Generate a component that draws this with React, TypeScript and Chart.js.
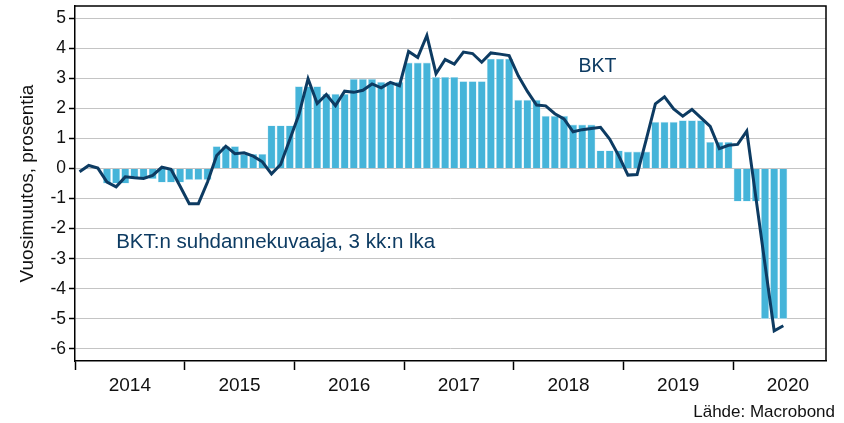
import React, { useEffect, useRef } from 'react';
import { Chart, registerables } from 'chart.js';

Chart.register(...registerables);

// ---- data ----
const YEARS = [2014, 2015, 2016, 2017, 2018, 2019, 2020];
const Y_TICKS = [-6, -5, -4, -3, -2, -1, 0, 1, 2, 3, 4, 5];

// Quarterly GDP (BKT) y/y change, Q1 2014 .. Q2 2020
const BKT_QUARTERLY = [
  -0.03, -0.5, -0.35, -0.47,
  -0.38, 0.74, 0.48, 1.43,
  2.73, 2.48, 2.98, 2.88,
  3.52, 3.04, 2.9, 3.65,
  2.28, 1.75, 1.46, 0.6,
  0.56, 1.55, 1.6, 0.88,
  -1.1, -5.0,
];

// Monthly GDP indicator (3-month moving average), Jan 2014 .. Jun 2020
const INDICATOR_MONTHLY = [
  -0.11, 0.1, 0.01, -0.45, -0.61, -0.28, -0.31, -0.33, -0.23, 0.04, -0.03, -0.59,
  -1.17, -1.17, -0.45, 0.43, 0.74, 0.49, 0.52, 0.41, 0.22, -0.18, 0.13, 0.96,
  1.79, 2.98, 2.16, 2.46, 2.09, 2.57, 2.53, 2.6, 2.81, 2.68, 2.86, 2.75,
  3.89, 3.69, 4.42, 3.15, 3.62, 3.47, 3.87, 3.82, 3.53, 3.84, 3.8, 3.75,
  3.08, 2.56, 2.11, 2.08, 1.82, 1.65, 1.22, 1.29, 1.33, 1.37, 0.98, 0.42,
  -0.22, -0.2, 0.96, 2.15, 2.38, 1.98, 1.74, 1.96, 1.68, 1.4, 0.66, 0.77,
  0.8, 1.24, -0.97, -3.2, -5.4, -5.23,
];

const LABEL_BKT = 'BKT';
const LABEL_INDICATOR = 'BKT:n suhdannekuvaaja, 3 kk:n lka';
const Y_TITLE = 'Vuosimuutos, prosentia';
const SOURCE = 'Lähde: Macrobond';

// annotation anchors in data units (month index, value)
const BKT_LABEL_POS = { x: 54.6, y: 3.38 };
const INDICATOR_LABEL_POS = { x: 4.0, y: -2.46 };

const NAVY = '#0d3b62';
const BAR = '#45b4d9';
const BAR_EDGE = '#bfe4f2';
const FONT = '"Liberation Sans", Arial, Helvetica, sans-serif';

const barPoints = BKT_QUARTERLY.flatMap((v, q) => [0, 1, 2].map((k) => ({ x: q * 3 + k, y: v })));
const linePoints = INDICATOR_MONTHLY.map((v, m) => ({ x: m, y: v }));

const xTickValues: number[] = [];
YEARS.forEach((yr, i) => {
  xTickValues.push(i * 12 - 0.5);
  xTickValues.push(i * 12 + 5.5);
});

const isYearStart = (v: number) => Math.abs(((v + 0.5) % 12 + 12) % 12) < 1e-6;

const framePlugin = {
  id: 'frameAndNotes',
  afterDatasetsDraw(chart: any) {
    const { ctx, chartArea: a, scales } = chart;
    const x = scales.x;
    const y = scales.y;
    ctx.save();
    ctx.strokeStyle = '#000';
    ctx.lineWidth = 1.5;
    ctx.beginPath();
    ctx.moveTo(a.left, a.top);
    ctx.lineTo(a.right, a.top);
    ctx.lineTo(a.right, a.bottom);
    ctx.stroke();

    ctx.fillStyle = NAVY;
    ctx.textAlign = 'left';
    ctx.textBaseline = 'middle';
    ctx.font = `19.5px ${FONT}`;
    ctx.fillText(LABEL_BKT, x.getPixelForValue(BKT_LABEL_POS.x), y.getPixelForValue(BKT_LABEL_POS.y));
    ctx.font = `20.5px ${FONT}`;
    ctx.fillText(LABEL_INDICATOR, x.getPixelForValue(INDICATOR_LABEL_POS.x), y.getPixelForValue(INDICATOR_LABEL_POS.y));
    ctx.restore();
  },
  afterDraw(chart: any) {
    const { ctx } = chart;
    ctx.save();
    ctx.fillStyle = '#111';
    ctx.font = `17px "Liberation Sans Narrow", "Arial Narrow", ${FONT}`;
    ctx.textAlign = 'right';
    ctx.textBaseline = 'middle';
    ctx.fillText(SOURCE, chart.width - 9, chart.height - 11);
    ctx.restore();
  },
};

export default function App() {
  const ref = useRef<HTMLCanvasElement | null>(null);

  useEffect(() => {
    if (!ref.current) return;
    const chart = new Chart(ref.current, {
      type: 'bar',
      data: {
        datasets: [
          {
            type: 'line',
            label: 'BKT:n suhdannekuvaaja',
            data: linePoints,
            borderColor: NAVY,
            borderWidth: 3,
            pointRadius: 0,
            tension: 0,
            order: 0,
          } as any,
          {
            type: 'bar',
            label: 'BKT',
            data: barPoints,
            backgroundColor: BAR,
            borderColor: BAR_EDGE,
            borderWidth: 0.6,
            barPercentage: 0.88,
            categoryPercentage: 1,
            order: 1,
          } as any,
        ],
      },
      options: {
        animation: false,
        responsive: false,
        layout: { padding: { left: 0, top: 6, right: 18, bottom: 0 } },
        plugins: { legend: { display: false }, tooltip: { enabled: false } },
        scales: {
          x: {
            type: 'linear',
            offset: false,
            min: -0.5,
            max: 81.67,
            afterBuildTicks: (s: any) => {
              s.ticks = xTickValues.map((v) => ({ value: v }));
            },
            afterFit: (s: any) => {
              s.height = 62;
              s.paddingLeft = 0;
              s.paddingRight = 0;
            },
            border: { display: true, color: '#000', width: 1.5 },
            grid: {
              offset: false,
              drawOnChartArea: false,
              drawTicks: true,
              tickLength: 9,
              tickWidth: 1.5,
              tickColor: (c: any) => (c.tick && isYearStart(c.tick.value) ? '#000' : 'rgba(0,0,0,0)'),
            },
            ticks: {
              autoSkip: false,
              maxRotation: 0,
              padding: 4,
              color: '#111',
              font: { family: FONT, size: 19 },
              callback: (v: any) => {
                const n = Number(v);
                if (isYearStart(n)) return '';
                const i = Math.round((n - 5.5) / 12);
                return YEARS[i] !== undefined ? String(YEARS[i]) : '';
              },
            },
          },
          y: {
            type: 'linear',
            min: -6.4,
            max: 5.4,
            afterBuildTicks: (s: any) => {
              s.ticks = Y_TICKS.map((v) => ({ value: v }));
            },
            afterFit: (s: any) => {
              s.width = 75;
              s.paddingTop = 0;
              s.paddingBottom = 0;
            },
            border: { display: true, color: '#000', width: 1.5 },
            grid: {
              color: '#c4c4c4',
              lineWidth: 1,
              drawTicks: true,
              tickLength: 6,
              tickColor: '#000',
              tickWidth: 1.5,
            },
            ticks: {
              padding: 3,
              color: '#111',
              font: { family: FONT, size: 17.5 },
              callback: (v: any) => String(v),
            },
            title: {
              display: true,
              text: Y_TITLE,
              color: '#111',
              font: { family: FONT, size: 19 },
              padding: { top: 16, bottom: 0 },
            },
          },
        },
      },
      plugins: [framePlugin],
    });
    return () => chart.destroy();
  }, []);

  return (
    <div style={{ position: 'fixed', left: 0, top: 0, width: 844, height: 423, background: '#fff' }}>
      <canvas ref={ref} width={844} height={423} style={{ display: 'block' }} />
    </div>
  );
}
